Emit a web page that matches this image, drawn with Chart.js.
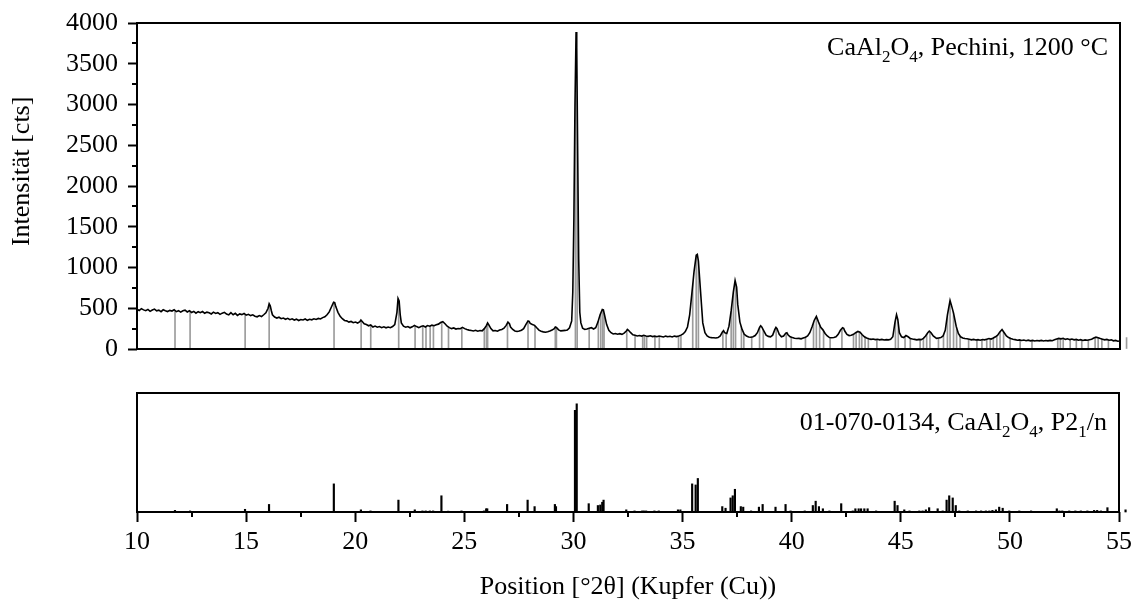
<!DOCTYPE html>
<html>
<head>
<meta charset="utf-8">
<script src="https://cdn.jsdelivr.net/npm/chart.js@4.4.0/dist/chart.umd.min.js"></script>
<style>
  body { margin: 0; background: #fff; }
  .box { position: absolute; left: 0; width: 1139px; }
</style>
</head>
<body>
<div class="box" style="top:0;height:372px"><canvas id="scanChart"></canvas></div>
<div class="box" style="top:372px;height:233px"><canvas id="refChart"></canvas></div>
<script>
// measured pattern: [2theta, counts]
const scan = [
  [10.0,488],[10.1,472],[10.2,495],[10.3,480],[10.4,470],[10.5,486],[10.6,462],[10.7,478],[10.8,490],[10.9,468],
  [11.0,476],[11.1,458],[11.2,481],[11.3,470],[11.4,460],[11.5,474],[11.6,466],[11.7,482],[11.8,458],[11.9,470],
  [12.0,452],[12.1,468],[12.2,476],[12.3,455],[12.4,470],[12.5,448],[12.6,462],[12.7,440],[12.8,458],[12.9,446],
  [13.0,460],[13.1,438],[13.2,452],[13.3,444],[13.4,430],[13.5,452],[13.6,436],[13.7,446],[13.8,425],[13.9,440],
  [14.0,450],[14.1,428],[14.2,418],[14.3,445],[14.4,420],[14.5,438],[14.6,412],[14.7,430],[14.8,422],[14.9,436],
  [15.0,415],[15.1,425],[15.2,410],[15.3,420],[15.4,402],[15.5,395],[15.6,410],[15.7,398],[15.8,420],[15.9,445],
  [16.0,500],[16.05,555],[16.1,530],[16.15,470],[16.2,420],[16.3,392],[16.4,380],[16.5,390],[16.6,372],[16.7,380],
  [16.8,365],[16.9,376],[17.0,360],[17.1,370],[17.2,355],[17.3,366],[17.4,350],[17.5,362],[17.6,356],[17.7,368],
  [17.8,352],[17.9,364],[18.0,358],[18.1,370],[18.2,362],[18.3,375],[18.4,368],[18.5,385],[18.6,395],[18.7,420],
  [18.8,455],[18.9,515],[19.0,575],[19.05,570],[19.1,520],[19.2,450],[19.3,400],[19.4,372],[19.5,350],[19.6,345],
  [19.7,330],[19.8,338],[19.9,322],[20.0,330],[20.1,318],[20.2,335],[20.25,355],[20.3,340],[20.4,310],[20.5,300],
  [20.6,285],[20.7,295],[20.8,270],[20.9,282],[21.0,268],[21.1,276],[21.2,262],[21.3,272],[21.4,260],[21.5,270],
  [21.6,262],[21.7,275],[21.8,300],[21.9,450],[21.95,620],[22.0,590],[22.05,420],[22.1,320],[22.2,280],[22.3,268],
  [22.4,275],[22.5,260],[22.6,272],[22.7,290],[22.8,275],[22.9,262],[23.0,275],[23.1,285],[23.2,270],[23.3,288],
  [23.4,280],[23.5,292],[23.6,285],[23.7,298],[23.8,305],[23.9,325],[24.0,335],[24.1,310],[24.2,280],[24.3,262],
  [24.4,250],[24.5,258],[24.6,245],[24.7,252],[24.8,248],[24.9,265],[25.0,250],[25.1,238],[25.2,232],[25.3,228],
  [25.4,222],[25.5,230],[25.6,218],[25.7,226],[25.8,222],[25.9,250],[26.0,290],[26.05,320],[26.1,300],[26.2,250],
  [26.3,222],[26.4,226],[26.5,218],[26.6,232],[26.7,240],[26.8,255],[26.9,290],[26.98,330],[27.05,310],[27.1,270],
  [27.2,240],[27.3,222],[27.4,215],[27.5,220],[27.6,230],[27.7,250],[27.8,300],[27.9,345],[27.95,340],[28.0,315],
  [28.1,300],[28.2,290],[28.3,260],[28.4,232],[28.5,218],[28.6,210],[28.7,205],[28.8,212],[28.9,220],[29.0,232],
  [29.1,250],[29.15,270],[29.2,265],[29.3,235],[29.4,222],[29.5,225],[29.6,228],[29.7,232],[29.8,260],[29.9,345],
  [29.95,700],[30.0,1600],[30.05,3000],[30.1,3890],[30.13,3700],[30.17,2500],[30.22,1100],[30.27,450],[30.32,320],[30.4,255],
  [30.5,240],[30.6,245],[30.7,255],[30.8,262],[30.9,245],[31.0,260],[31.1,330],[31.2,420],[31.3,485],[31.35,480],
  [31.4,420],[31.5,300],[31.6,230],[31.7,200],[31.8,185],[31.9,190],[32.0,182],[32.1,188],[32.2,180],[32.3,195],
  [32.4,220],[32.45,240],[32.5,230],[32.6,200],[32.7,175],[32.8,168],[32.9,160],[33.0,165],[33.1,158],[33.2,168],
  [33.3,160],[33.4,155],[33.5,162],[33.6,152],[33.7,158],[33.8,150],[33.9,160],[34.0,154],[34.1,148],[34.2,158],
  [34.3,150],[34.4,156],[34.5,148],[34.6,158],[34.7,152],[34.8,160],[34.9,170],[35.0,185],[35.1,215],[35.2,270],
  [35.3,420],[35.4,680],[35.5,950],[35.6,1150],[35.65,1160],[35.7,1080],[35.8,700],[35.9,320],[36.0,200],[36.1,160],
  [36.2,145],[36.3,140],[36.4,138],[36.5,135],[36.6,140],[36.7,160],[36.8,210],[36.85,225],[36.9,200],[37.0,190],
  [37.1,280],[37.2,470],[37.3,700],[37.38,840],[37.45,760],[37.5,550],[37.6,330],[37.7,240],[37.8,180],[37.9,160],
  [38.0,148],[38.1,145],[38.2,150],[38.3,165],[38.4,200],[38.5,265],[38.55,285],[38.6,270],[38.7,220],[38.8,170],
  [38.9,155],[39.0,150],[39.1,170],[39.2,240],[39.25,265],[39.3,250],[39.4,180],[39.5,150],[39.6,160],[39.7,195],
  [39.75,200],[39.8,175],[39.9,150],[40.0,140],[40.1,132],[40.2,128],[40.3,130],[40.4,125],[40.5,135],[40.6,145],
  [40.7,160],[40.8,200],[40.9,270],[41.0,350],[41.1,400],[41.2,330],[41.3,265],[41.4,235],[41.5,190],[41.6,160],
  [41.7,140],[41.8,138],[41.9,142],[42.0,150],[42.1,180],[42.2,230],[42.3,262],[42.35,255],[42.4,220],[42.5,180],
  [42.6,165],[42.7,168],[42.8,180],[42.9,200],[43.0,215],[43.1,205],[43.2,175],[43.3,150],[43.4,135],[43.5,125],
  [43.6,118],[43.7,122],[43.8,115],[43.9,120],[44.0,112],[44.1,118],[44.2,110],[44.3,115],[44.4,112],[44.5,118],
  [44.6,150],[44.7,330],[44.77,420],[44.83,360],[44.9,200],[45.0,150],[45.1,140],[45.2,165],[45.3,150],[45.4,130],
  [45.5,122],[45.6,118],[45.7,112],[45.8,118],[45.9,115],[46.0,130],[46.1,160],[46.2,200],[46.27,220],[46.35,200],
  [46.45,160],[46.6,130],[46.7,135],[46.8,140],[46.9,160],[47.0,230],[47.1,420],[47.22,595],[47.3,520],[47.38,440],
  [47.5,280],[47.6,190],[47.7,150],[47.8,135],[47.9,128],[48.0,125],[48.1,120],[48.2,112],[48.3,118],[48.4,110],
  [48.5,115],[48.6,108],[48.7,116],[48.8,112],[48.9,120],[49.0,128],[49.1,122],[49.2,135],[49.3,150],[49.4,170],
  [49.5,210],[49.6,240],[49.7,200],[49.8,160],[49.9,140],[50.0,128],[50.1,120],[50.2,115],[50.3,108],[50.4,112],
  [50.5,105],[50.6,110],[50.7,102],[50.8,108],[50.9,100],[51.0,106],[51.1,98],[51.2,104],[51.3,100],[51.4,106],
  [51.5,98],[51.6,104],[51.7,100],[51.8,106],[51.9,102],[52.0,112],[52.1,122],[52.2,130],[52.3,125],[52.4,132],
  [52.5,118],[52.6,126],[52.7,115],[52.8,122],[52.9,112],[53.0,118],[53.1,108],[53.2,115],[53.3,105],[53.4,112],
  [53.5,108],[53.6,114],[53.7,120],[53.8,135],[53.9,145],[54.0,138],[54.1,128],[54.2,120],[54.3,112],[54.4,118],
  [54.5,108],[54.6,112],[54.7,100],[54.8,105],[54.9,95],[55.0,98]
];

// reference card 01-070-0134 line positions and relative intensities
const refPos = [
  11.74, 12.43, 14.95, 16.05, 19.02, 20.26, 20.70, 21.98, 22.73, 23.08,
  23.23, 23.42, 23.57, 23.95, 24.26, 24.87, 25.90, 26.00, 26.05, 26.96,
  27.90, 28.22, 29.15, 29.20, 30.07, 30.15, 30.70, 31.12, 31.23, 31.32,
  31.38, 32.42, 32.80, 33.15, 33.23, 33.33, 33.71, 33.91, 34.79, 34.90,
  35.44, 35.60, 35.70, 36.82, 36.97, 37.20, 37.30, 37.40, 37.67, 37.78,
  38.14, 38.50, 38.67, 39.26, 39.72, 39.95, 40.60, 40.97, 41.10, 41.25,
  41.43, 41.73, 42.27, 42.80, 42.92, 43.07, 43.18, 43.33, 43.48, 43.87,
  44.72, 44.85, 45.16, 45.40, 45.85, 46.00, 46.15, 46.30, 46.69, 46.92,
  47.10, 47.22, 47.38, 47.52, 47.68, 48.07, 48.45, 48.68, 48.90, 49.06,
  49.20, 49.36, 49.51, 49.67, 49.97, 50.43, 50.97, 52.15, 52.27, 52.40,
  52.72, 53.00, 53.25, 53.55, 53.86, 54.00, 54.17, 54.47, 55.30
];
const refInt = [
  1.5, 1, 2.5, 7, 26, 2, 1, 11, 2, 1,
  1, 1, 1, 15, 0.8, 1, 1, 3, 3, 7,
  11, 5, 7, 5, 94, 100, 7.7, 6, 6.5, 9,
  11, 2, 1, 1, 1, 1, 1, 1, 2, 2,
  26, 25, 31, 5, 3.5, 13, 15, 21, 5, 4.5,
  1, 4.5, 7, 4.5, 7, 1, 1, 6, 10, 5,
  3, 1, 7.7, 1, 3, 3, 3, 3, 3, 1,
  10, 6, 2, 1, 1, 1, 2, 4, 3, 1,
  11, 15, 13, 6, 1, 1, 1, 1, 1, 1,
  1.5, 2, 4.5, 3.5, 1, 1, 1, 3, 1, 1,
  1, 1, 1, 1, 1.5, 1.5, 1, 4, 2
];

// the last card line sits past the axis end, its height
const edgePos = [55.30];
const edgeCts = [140];

const yTicksMajor = [0, 500, 1000, 1500, 2000, 2500, 3000, 3500, 4000];
const yTicksMinor = [250, 750, 1250, 1750, 2250, 2750, 3250, 3750];
const xTicksMinor = [12.5, 17.5, 22.5, 27.5, 32.5, 37.5, 42.5, 47.5, 52.5];

const yTitle = "Intensität [cts]";
const scanLabel = [["CaAl", false], ["2", true], ["O", false], ["4", true], [", Pechini, 1200 °C", false]];
const cardLabel = [["01-070-0134, CaAl", false], ["2", true], ["O", false], ["4", true], [", P2", false], ["1", true], ["/n", false]];

const serif = "'Liberation Serif', 'Times New Roman', serif";
const tickFont = { family: serif, size: 26, lineHeight: 1 };
const stickGray = "#9c9c9c";

function drawLabel(ctx, parts, xRight, baseline) {
  let total = 0;
  for (const p of parts) {
    ctx.font = (p[1] ? 17 : 26) + "px " + serif;
    total += ctx.measureText(p[0]).width;
  }
  let x = xRight - total;
  ctx.fillStyle = "#000";
  ctx.textAlign = "left";
  ctx.textBaseline = "alphabetic";
  for (const p of parts) {
    ctx.font = (p[1] ? 17 : 26) + "px " + serif;
    ctx.fillText(p[0], x, p[1] ? baseline + 7 : baseline);
    x += ctx.measureText(p[0]).width;
  }
}

function decor(label, labelY, minor) {
  return {
    id: "decor",
    afterDraw(chart) {
      const ctx = chart.ctx;
      const a = chart.chartArea;
      ctx.save();
      ctx.strokeStyle = "#000";
      ctx.lineWidth = 2;
      ctx.strokeRect(a.left, a.top, a.right - a.left, a.bottom - a.top);
      ctx.beginPath();
      if (minor == "y") {
        for (const v of yTicksMinor) {
          const py = Math.round(chart.scales.y.getPixelForValue(v));
          ctx.moveTo(a.left - 5, py);
          ctx.lineTo(a.left, py);
        }
      } else {
        for (const v of xTicksMinor) {
          const px = Math.round(chart.scales.x.getPixelForValue(v));
          ctx.moveTo(px, a.bottom);
          ctx.lineTo(px, a.bottom + 5);
        }
      }
      ctx.stroke();
      drawLabel(ctx, label, a.right - 12, labelY);
      if (minor == "y") {
        // axis title sits a little above the middle of the panel
        ctx.translate(22, a.top + (a.bottom - a.top) * 0.455);
        ctx.rotate(-Math.PI / 2);
        ctx.font = "26px " + serif;
        ctx.textAlign = "center";
        ctx.textBaseline = "middle";
        ctx.fillText(yTitle, 0, 0);
      }
      ctx.restore();
    },
  };
}

let scanPoints = scan.map((p) => ({ x: p[0], y: p[1] }));
let grayLines = refPos.map((p) => ({ x: p, y: 4000 }));
let edgeLines = edgePos.map((p, i) => ({ x: p, y: edgeCts[i] }));
let cardLines = refPos.map((p, i) => ({ x: p, y: refInt[i] }));

new Chart("scanChart", {
  type: "line",
  data: {
    datasets: [
      {
        data: scanPoints,
        borderColor: "#000",
        borderWidth: 1.6,
        pointRadius: 0,
        tension: 0,
        fill: "end",
        backgroundColor: "#fff",
      },
      {
        // card lines reach up to the scan; the white fill above the scan hides the rest
        type: "bar",
        data: grayLines,
        backgroundColor: stickGray,
        barThickness: 1,
        grouped: false,
      },
      {
        type: "bar",
        data: edgeLines,
        backgroundColor: stickGray,
        barThickness: 1,
        grouped: false,
        clip: false,
      },
    ],
  },
  options: {
    responsive: true,
    maintainAspectRatio: false,
    animation: false,
    events: [],
    layout: { padding: { top: 19, right: 19, bottom: 13, left: 0 } },
    plugins: { legend: { display: false }, tooltip: { enabled: false } },
    scales: {
      x: { type: "linear", min: 10, max: 55, offset: false, display: false },
      y: {
        min: 0,
        max: 4000,
        afterBuildTicks: (s) => { s.ticks = yTicksMajor.map((v) => ({ value: v })); },
        afterFit: (s) => { s.width = 137; },
        border: { display: false },
        grid: { drawOnChartArea: false, tickLength: 9, tickWidth: 2, tickColor: "#000" },
        ticks: { font: tickFont, color: "#000", padding: 10, callback: (v) => String(v) },
      },
    },
  },
  plugins: [decor(scanLabel, 55, "y")],
});

new Chart("refChart", {
  type: "bar",
  data: {
    datasets: [
      { data: cardLines, backgroundColor: "#000", barThickness: 1.5, grouped: false, clip: false },
    ],
  },
  options: {
    responsive: true,
    maintainAspectRatio: false,
    animation: false,
    events: [],
    layout: { padding: { top: 21, right: 19, bottom: 0, left: 137 } },
    plugins: { legend: { display: false }, tooltip: { enabled: false } },
    scales: {
      x: {
        type: "linear",
        min: 10,
        max: 55,
        offset: false,
        afterFit: (s) => { s.height = 93; },
        border: { display: false },
        grid: { drawOnChartArea: false, offset: false, tickLength: 10, tickWidth: 2, tickColor: "#000" },
        ticks: { stepSize: 5, font: tickFont, color: "#000", padding: 7, maxRotation: 0 },
        title: {
          display: true,
          text: "Position [°2θ] (Kupfer (Cu))",
          color: "#000",
          font: { family: serif, size: 26 },
          padding: { top: 0, bottom: 2 },
        },
      },
      y: { display: false, min: 0, max: 110 },
    },
  },
  plugins: [decor(cardLabel, 58, "x")],
});
</script>
</body>
</html>
